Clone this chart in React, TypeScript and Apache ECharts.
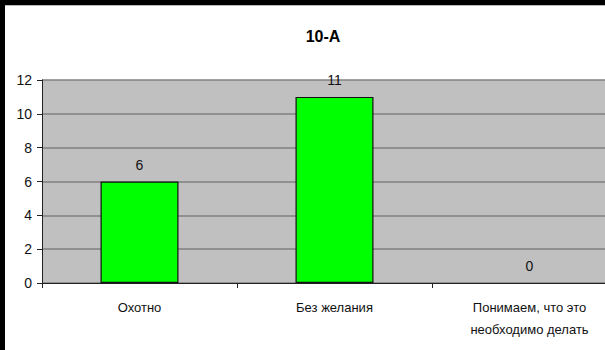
import React, { useEffect, useRef } from "react";
import * as echarts from "echarts";

const title = "10-A";
const categories = ["Охотно", "Без желания", "Понимаем, что это\nнеобходимо делать"];
const values = [6, 11, 0];
const yTicks = { min: 0, max: 12, interval: 2 };

const FONT = "'Liberation Sans Narrow', 'Arial Narrow', 'Liberation Sans', Arial, sans-serif";

export default function App() {
  const ref = useRef<HTMLDivElement>(null);
  useEffect(() => {
    document.body.style.margin = "0";
    const chart = echarts.init(ref.current!, null, { renderer: "svg" });
    chart.setOption({
      animation: false,
      backgroundColor: "#ffffff",
      title: {
        text: title,
        left: 318,
        top: 23,
        textAlign: "center",
        textStyle: { fontFamily: FONT, fontSize: 16, fontWeight: "bold", color: "#000" },
      },
      grid: {
        left: 42,
        top: 80,
        width: 585,
        height: 203,
        show: true,
        backgroundColor: "#C0C0C0",
        borderWidth: 0,
        containLabel: false,
      },
      xAxis: {
        type: "category",
        data: categories,
        boundaryGap: true,
        axisLine: { show: true, lineStyle: { color: "#222", width: 1 } },
        axisTick: { show: true, length: 5, inside: false, lineStyle: { color: "#222" } },
        axisLabel: {
          fontFamily: FONT,
          fontSize: 13,
          color: "#111",
          margin: 13,
          lineHeight: 22,
          interval: 0,
        },
      },
      yAxis: {
        type: "value",
        min: yTicks.min,
        max: yTicks.max,
        interval: yTicks.interval,
        axisLine: { show: true, lineStyle: { color: "#222", width: 1 } },
        axisTick: { show: true, length: 5, inside: false, lineStyle: { color: "#222" } },
        axisLabel: { fontFamily: FONT, fontSize: 14, color: "#111", margin: 10 },
        splitLine: { show: true, lineStyle: { color: "#808080", width: 1.5 } },
      },
      series: [
        {
          type: "bar",
          data: values.map((v) => (v === 0 ? { value: v, itemStyle: { borderWidth: 0 } } : v)),
          barWidth: 78,
          itemStyle: { color: "#00FF00", borderColor: "#111", borderWidth: 1.2 },
          label: {
            show: true,
            position: "top",
            distance: 10,
            fontFamily: FONT,
            fontSize: 14,
            color: "#111",
          },
        },
      ],
      graphic: [
        { type: "rect", shape: { x: 0, y: 0, width: 5, height: 350 }, style: { fill: "#000" } },
        { type: "rect", shape: { x: 0, y: 0, width: 640, height: 5 }, style: { fill: "#000" } },
        { type: "rect", shape: { x: 5, y: 5, width: 635, height: 1 }, style: { fill: "#bbb" } },
      ],
    });
    return () => chart.dispose();
  }, []);
  return (
    <div style={{ position: "fixed", left: 0, top: 0, width: 605, height: 350, overflow: "hidden" }}>
      <div ref={ref} style={{ width: 640, height: 350 }} />
    </div>
  );
}
